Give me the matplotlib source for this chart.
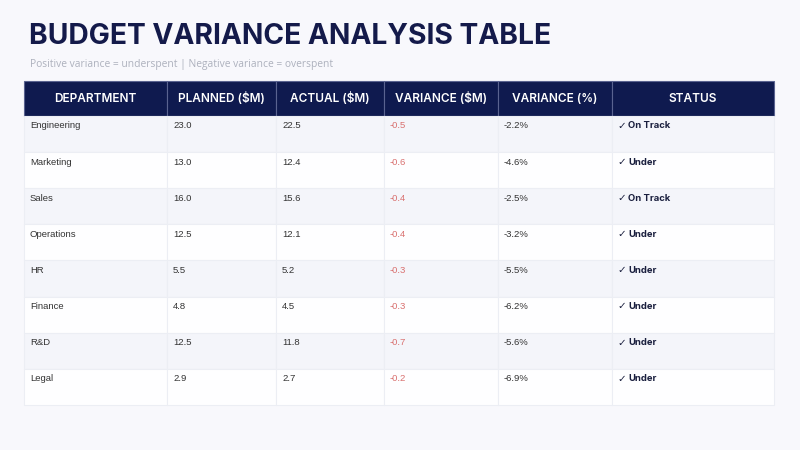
import matplotlib
matplotlib.use('Agg')
import matplotlib.pyplot as plt
from matplotlib.patches import Rectangle

# table data
columns = ['DEPARTMENT', 'PLANNED ($M)', 'ACTUAL ($M)', 'VARIANCE ($M)', 'VARIANCE (%)', 'STATUS']
departments = ['Engineering', 'Marketing', 'Sales', 'Operations', 'HR', 'Finance', 'R&D', 'Legal']
planned = [23.0, 13.0, 16.0, 12.5, 5.5, 4.8, 12.5, 2.9]
actual = [22.5, 12.4, 15.6, 12.1, 5.2, 4.5, 11.8, 2.7]
variance = [-0.5, -0.6, -0.4, -0.4, -0.3, -0.3, -0.7, -0.2]
variance_pct = [-2.2, -4.6, -2.5, -3.2, -5.5, -6.2, -5.6, -6.9]
status = ['On Track', 'Under', 'On Track', 'Under', 'Under', 'Under', 'Under', 'Under']

bg = '#f8f8fc'
navy = '#0f1a4f'
red = '#d9706f'

fig = plt.figure(figsize=(8, 4.5), dpi=100, facecolor=bg)
ax = fig.add_axes([0, 0, 1, 1])
ax.set_xlim(0, 800)
ax.set_ylim(450, 0)
ax.axis('off')

# title and subtitle
ax.text(29, 36, 'BUDGET VARIANCE ANALYSIS TABLE', fontsize=20.3, fontweight='bold',
        color='#141a4a', family='Inter', va='center', ha='left')
ax.text(30, 65, 'Positive variance = underspent | Negative variance = overspent',
        fontsize=7.4, color='#adb1bd', family='Open Sans', va='center', ha='left')

col_edges = [24, 167, 276, 384, 498, 612, 774]
header_top, header_h = 81, 35
row_h = 36.1

# header
for i, name in enumerate(columns):
    x0, x1 = col_edges[i], col_edges[i + 1]
    ax.add_patch(Rectangle((x0, header_top), x1 - x0, header_h, facecolor=navy,
                           edgecolor='#5a6390', linewidth=0.8))
    ax.text((x0 + x1) / 2, header_top + header_h / 2, name, color='white', fontsize=8.5,
            fontweight='semibold', family='Inter', ha='center', va='center')

# body rows
for r in range(len(departments)):
    top = header_top + header_h + r * row_h
    fill = '#f4f5fa' if r % 2 == 0 else '#fefeff'
    cells = [departments[r], f'{planned[r]:.1f}', f'{actual[r]:.1f}',
             f'{variance[r]:.1f}', f'{variance_pct[r]:.1f}%', status[r]]
    for i, txt in enumerate(cells):
        x0, x1 = col_edges[i], col_edges[i + 1]
        ax.add_patch(Rectangle((x0, top), x1 - x0, row_h, facecolor=fill,
                               edgecolor='#eceef4', linewidth=0.8))
        if i == 3:
            ax.text(x0 + 6, top + 10, txt, color=red, fontsize=6.8,
                    family='Liberation Sans', ha='left', va='center')
        elif i == 5:
            ax.text(x0 + 5.5, top + 10, '\u2713', color='#1a1f3e', fontsize=7.5,
                    fontweight='bold', family='DejaVu Sans', ha='left', va='center')
            ax.text(x0 + 16, top + 10, txt, color='#1a1f3e', fontsize=6.8,
                    fontweight='bold', family='Inter', ha='left', va='center')
        else:
            ax.text(x0 + 6, top + 10, txt, color='#333333', fontsize=6.8,
                    family='Liberation Sans', ha='left', va='center')

fig.savefig('out.png', dpi=100, facecolor=bg)
